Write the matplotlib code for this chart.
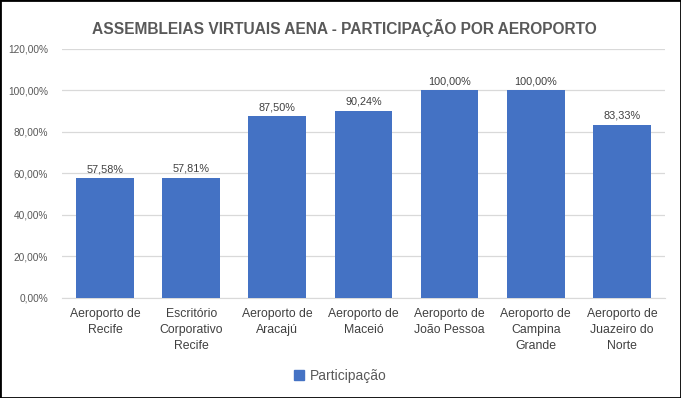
import matplotlib.pyplot as plt
import matplotlib.patches as mpatches
from matplotlib.ticker import FuncFormatter

categorias = ["Aeroporto de\nRecife", "Escritório\nCorporativo\nRecife", "Aeroporto de\nAracajú",
              "Aeroporto de\nMaceió", "Aeroporto de\nJoão Pessoa", "Aeroporto de\nCampina\nGrande",
              "Aeroporto de\nJuazeiro do\nNorte"]
participacao = [57.58, 57.81, 87.50, 90.24, 100.00, 100.00, 83.33]
yticks = [0, 20, 40, 60, 80, 100, 120]

azul = "#4472C4"
cinza = "#595959"

plt.rcParams['font.family'] = ['Liberation Sans', 'DejaVu Sans']

fig = plt.figure(figsize=(6.81, 3.98), dpi=100)
ax = fig.add_axes([0.091, 0.2513, 0.8855, 0.6257])

x = range(len(categorias))
ax.bar(x, participacao, width=0.67, color=azul, zorder=3)
for xi, v in zip(x, participacao):
    ax.text(xi, v + 2, f"{v:.2f}".replace(".", ",") + "%", ha="center", va="bottom",
            fontsize=7.8, color="#404040")

ax.set_ylim(0, 120)
ax.set_xlim(-0.5, len(categorias) - 0.5)
ax.set_yticks(yticks)
ax.yaxis.set_major_formatter(FuncFormatter(lambda v, p: f"{v:.2f}".replace(".", ",") + "%"))
ax.set_xticks(list(x))
ax.set_xticklabels(categorias, fontsize=8.8, color="#404040", linespacing=1.45)
ax.tick_params(axis="y", length=0, labelsize=7.3, labelcolor=cinza, pad=10)
ax.tick_params(axis="x", length=0, pad=7)
ax.grid(axis="y", color="#D9D9D9", linewidth=0.9, zorder=0)
for s in ["top", "right", "left"]:
    ax.spines[s].set_visible(False)
ax.spines["bottom"].set_color("#D9D9D9")

fig.text(0.505, 0.93, "ASSEMBLEIAS VIRTUAIS AENA - PARTICIPAÇÃO POR AEROPORTO", ha="center",
         va="center", fontsize=11.2, fontweight="bold", color=cinza)

handle = mpatches.Patch(color=azul, label="Participação")
fig.legend(handles=[handle], loc="center", bbox_to_anchor=(0.5, 0.055), frameon=False,
           fontsize=10, handlelength=0.7, handleheight=0.7, handletextpad=0.4,
           labelcolor=cinza)

# moldura preta
fig.patches.append(mpatches.Rectangle((0, 0), 1, 1, transform=fig.transFigure, fill=False,
                                      edgecolor="black", linewidth=2))

fig.savefig("out.png", dpi=100)
